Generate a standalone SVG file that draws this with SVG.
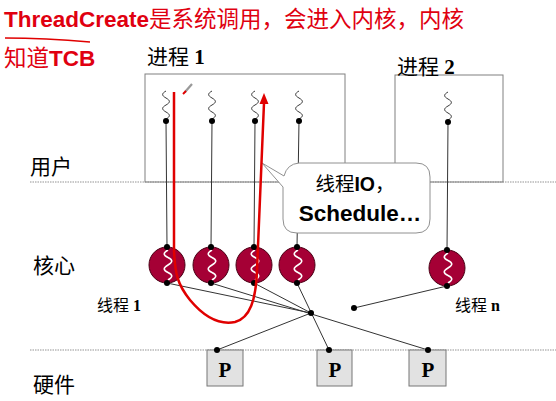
<svg xmlns="http://www.w3.org/2000/svg" xmlns:xlink="http://www.w3.org/1999/xlink" width="556" height="401" viewBox="0 0 556 401">
<style>
.title{font-family:"Liberation Sans","Noto Sans CJK SC",sans-serif;font-size:22.5px;fill:#e00010}
.b{font-weight:bold}
.lbl{font-family:"Liberation Serif","Noto Sans CJK SC",serif;font-size:21px;fill:#000}
.small{font-family:"Liberation Serif","Noto Sans CJK SC",serif;font-size:16px;fill:#000}
.box{fill:none;stroke:#808080;stroke-width:1}
.sep{stroke:#b8b8b8;stroke-width:1.5;stroke-dasharray:1.5 1}
.sq{fill:none;stroke:#222;stroke-width:0.9}
.wsq{fill:none;stroke:#fff;stroke-width:1.6}
.kt{fill:#a50035;stroke:#4a0015;stroke-width:1}
.ln{stroke:#333;stroke-width:1;fill:none}
.dot{fill:#000}
.pbox{fill:#e2e2e2;stroke:#777;stroke-width:1}
.ptxt{font-family:"Liberation Serif",serif;font-size:21px;font-weight:bold;fill:#000;text-anchor:middle}
.red{fill:none;stroke:#e00000;stroke-width:2.5;stroke-linejoin:round}
</style>
<defs>
<path id="sq" d="M0,0 c-4.5,2.5 -4.5,4.5 0,7 c4.5,2.5 4.5,4.5 0,7 c-4.5,2.5 -4.5,4.5 0,7 c4.5,2.5 4.5,4.5 0,7"/>
<path id="wsq" d="M0,0 c-5,3 -5,5 0,7.5 c5,2.5 5,4.5 0,7.5 c-5,3 -5,5 0,7.5 c5,2.5 5,4.5 0,7.5"/>
</defs>
<rect width="556" height="401" fill="#fff"/>

<g id="title">
<text class="title" x="4" y="27"><tspan class="b">ThreadCreate</tspan>是系统调用，会进入内核，内核</text>
<text class="title" x="4" y="66">知道<tspan class="b">TCB</tspan></text>
<path d="M5,38 Q45,38 90,42" fill="none" stroke="#e00000" stroke-width="1.3"/>
</g>

<g id="layers">
<line class="sep" x1="30" y1="182" x2="556" y2="182"/>
<line class="sep" x1="30" y1="350" x2="556" y2="350"/>
<text class="lbl" x="30" y="174">用户</text>
<text class="lbl" x="33" y="273">核心</text>
<text class="lbl" x="33" y="392">硬件</text>
</g>

<g id="process1">
<rect class="box" x="145" y="74" width="200" height="108"/>
<text class="lbl" x="147" y="64">进程 <tspan font-weight="bold">1</tspan></text>
</g>
<g id="process2">
<rect class="box" x="395" y="75" width="108" height="107"/>
<text class="lbl" x="397" y="74">进程 <tspan font-weight="bold">2</tspan></text>
</g>

<g id="connectors">
<line class="ln" x1="166" y1="121" x2="167" y2="247"/>
<line class="ln" x1="212" y1="121" x2="211" y2="247"/>
<line class="ln" x1="255" y1="121" x2="254" y2="247"/>
<line class="ln" x1="299" y1="121" x2="297" y2="247"/>
<line class="ln" x1="448" y1="122" x2="447" y2="250"/>
<line class="ln" x1="167" y1="283" x2="311" y2="313"/>
<line class="ln" x1="211" y1="283" x2="428" y2="350"/>
<line class="ln" x1="254" y1="283" x2="311" y2="313"/>
<line class="ln" x1="297" y1="283" x2="329" y2="350"/>
<line class="ln" x1="311" y1="313" x2="217" y2="350"/>
<line class="ln" x1="354" y1="308" x2="447" y2="286"/>
<circle class="dot" cx="311" cy="313" r="3"/>
<circle class="dot" cx="354" cy="308" r="3"/>
</g>

<g id="uthreads">
<use href="#sq" class="sq" x="166" y="91"/>
<use href="#sq" class="sq" x="212" y="91"/>
<use href="#sq" class="sq" x="255" y="91"/>
<use href="#sq" class="sq" x="299" y="91"/>
<use href="#sq" class="sq" x="448" y="92"/>
<circle class="dot" cx="166" cy="121" r="3"/>
<circle class="dot" cx="212" cy="121" r="3"/>
<circle class="dot" cx="255" cy="121" r="3"/>
<circle class="dot" cx="299" cy="121" r="3"/>
<circle class="dot" cx="448" cy="122" r="3"/>
</g>

<g id="kthreads">
<circle class="kt" cx="167" cy="265" r="18"/>
<circle class="kt" cx="211" cy="265" r="18"/>
<circle class="kt" cx="254" cy="265" r="18"/>
<circle class="kt" cx="297" cy="265" r="18"/>
<circle class="kt" cx="447" cy="268" r="18"/>
<use href="#wsq" class="wsq" x="168" y="250"/>
<use href="#wsq" class="wsq" x="212" y="250"/>
<use href="#wsq" class="wsq" x="255" y="250"/>
<use href="#wsq" class="wsq" x="298" y="250"/>
<use href="#wsq" class="wsq" x="448" y="253"/>
<circle class="dot" cx="167" cy="247" r="3"/>
<circle class="dot" cx="211" cy="247" r="3"/>
<circle class="dot" cx="254" cy="247" r="3"/>
<circle class="dot" cx="297" cy="247" r="3"/>
<circle class="dot" cx="447" cy="250" r="3"/>
<circle class="dot" cx="167" cy="283" r="3"/>
<circle class="dot" cx="211" cy="283" r="3"/>
<circle class="dot" cx="254" cy="283" r="3"/>
<circle class="dot" cx="297" cy="283" r="3"/>
<circle class="dot" cx="447" cy="286" r="3"/>
<text class="small" x="97" y="311">线程 <tspan font-weight="bold">1</tspan></text>
<text class="small" x="455" y="311">线程 <tspan font-weight="bold">n</tspan></text>
</g>

<g id="processors">
<rect class="pbox" x="207" y="350" width="36" height="36"/>
<rect class="pbox" x="317" y="350" width="35" height="36"/>
<rect class="pbox" x="409" y="350" width="37" height="36"/>
<text class="ptxt" x="225" y="377">P</text>
<text class="ptxt" x="335" y="377">P</text>
<text class="ptxt" x="428" y="377">P</text>
<circle class="dot" cx="217" cy="350" r="3"/>
<circle class="dot" cx="329" cy="350" r="3"/>
<circle class="dot" cx="428" cy="350" r="3"/>
</g>

<g id="callout">
<path d="M262,163 L284,176 Q287,164 299,163 H416 Q430,163 430,177 V219 Q430,233 416,233 H297 Q283,233 283,219 V187 Z" fill="#fff" stroke="#909090" stroke-width="1"/>
<text x="355" y="191" text-anchor="middle" font-family="Liberation Sans, Noto Sans CJK SC, sans-serif" font-size="19.5" fill="#000">线程<tspan font-weight="bold">IO</tspan>，</text>
<text x="360" y="221" text-anchor="middle" font-family="Liberation Sans, sans-serif" font-size="22.5" font-weight="bold" fill="#000">Schedule…</text>
</g>

<g id="redpath">
<path class="red" d="M174,92 L174,250 C175,275 178,285 190,300 C205,318 220,325 235,322 C250,318 256,300 257,270 L264,103"/>
<polygon points="264,93 259.5,104 268.5,104" fill="#e00000"/>
<line x1="185" y1="92" x2="192" y2="84" stroke="#999" stroke-width="2.2"/>
<line x1="183" y1="94" x2="186" y2="91" stroke="#e00000" stroke-width="2"/>
</g>
</svg>
